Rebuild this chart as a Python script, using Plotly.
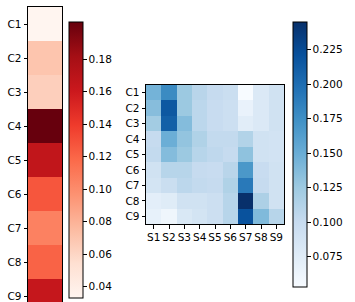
import plotly.graph_objects as go

W, H = 355, 302

rows = ["C1", "C2", "C3", "C4", "C5", "C6", "C7", "C8", "C9"]
cols = ["S1", "S2", "S3", "S4", "S5", "S6", "S7", "S8", "S9"]

left_vals = [0.033, 0.070, 0.064, 0.203, 0.166, 0.127, 0.106, 0.121, 0.164]

mid_vals = [
    [0.145, 0.178, 0.126, 0.109, 0.101, 0.097, 0.053, 0.080, 0.091],
    [0.136, 0.216, 0.126, 0.107, 0.099, 0.095, 0.066, 0.080, 0.091],
    [0.122, 0.210, 0.137, 0.107, 0.099, 0.095, 0.074, 0.080, 0.091],
    [0.101, 0.149, 0.130, 0.114, 0.103, 0.103, 0.113, 0.091, 0.089],
    [0.103, 0.137, 0.126, 0.110, 0.105, 0.101, 0.132, 0.091, 0.089],
    [0.091, 0.110, 0.110, 0.101, 0.099, 0.109, 0.168, 0.099, 0.091],
    [0.088, 0.097, 0.107, 0.103, 0.101, 0.114, 0.191, 0.101, 0.091],
    [0.072, 0.076, 0.091, 0.091, 0.095, 0.110, 0.245, 0.116, 0.091],
    [0.068, 0.061, 0.082, 0.088, 0.095, 0.110, 0.220, 0.139, 0.110],
]

left_ticks = [0.04, 0.06, 0.08, 0.10, 0.12, 0.14, 0.16, 0.18]
right_ticks = [0.075, 0.100, 0.125, 0.150, 0.175, 0.200, 0.225]

reds = ['#fff5f0', '#fee0d2', '#fcbba1', '#fc9272', '#fb6a4a', '#ef3b2c', '#cb181d', '#a50f15', '#67000d']
blues = ['#f7fbff', '#deebf7', '#c6dbef', '#9ecae1', '#6baed6', '#4292c6', '#2171b5', '#08519c', '#08306b']
def cs(c):
    n = len(c) - 1
    return [[i / n, col] for i, col in enumerate(c)]

FONT = dict(family="DejaVu Sans", size=10.5, color="black")

fig = go.Figure()
fig.add_trace(go.Heatmap(
    z=[[v] for v in left_vals], x=[0], y=list(range(len(rows))),
    colorscale=cs(reds), xaxis="x", yaxis="y",
    colorbar=dict(
        x=69 / W, xanchor="left", xref="paper", xpad=0,
        y=(H - 298) / H, yanchor="bottom", yref="paper", ypad=0,
        len=276 / H, lenmode="fraction", thickness=14,
        outlinewidth=1, outlinecolor="black",
        tickvals=left_ticks, ticktext=[f"{t:.2f}" for t in left_ticks],
        ticks="outside", ticklen=3.5, tickcolor="black", tickfont=FONT,
    ),
))
fig.add_trace(go.Heatmap(
    z=mid_vals, x=list(range(len(cols))), y=list(range(len(rows))),
    colorscale=cs(blues), xaxis="x2", yaxis="y2",
    colorbar=dict(
        x=293 / W, xanchor="left", xref="paper", xpad=0,
        y=(H - 287) / H, yanchor="bottom", yref="paper", ypad=0,
        len=265 / H, lenmode="fraction", thickness=14,
        outlinewidth=1, outlinecolor="black",
        tickvals=right_ticks, ticktext=[f"{t:.3f}" for t in right_ticks],
        ticks="outside", ticklen=3.5, tickcolor="black", tickfont=FONT,
    ),
))

row_h = 34.0
vis = (H - 7) / row_h
fig.update_layout(
    width=W, height=H, margin=dict(l=0, r=0, t=0, b=0),
    paper_bgcolor="white", plot_bgcolor="white", font=FONT,
    xaxis=dict(domain=[28 / W, 62 / W], range=[-0.5, 0.5], showticklabels=False,
               ticks="", showgrid=False, zeroline=False, showline=True,
               linecolor="black", linewidth=1, mirror=True, anchor="y"),
    yaxis=dict(domain=[0, (H - 7) / H], range=[-0.5 + vis, -0.5],
               tickvals=list(range(len(rows))), ticktext=rows,
               ticks="outside", ticklen=3.5, tickcolor="black",
               showgrid=False, zeroline=False, showline=True,
               linecolor="black", linewidth=1, mirror=True, anchor="x"),
    xaxis2=dict(domain=[146 / W, 284 / W], range=[-0.5, 8.5],
                tickvals=list(range(len(cols))), ticktext=cols, tickangle=0,
                ticks="outside", ticklen=3.5, tickcolor="black",
                showgrid=False, zeroline=False, showline=True,
                linecolor="black", linewidth=1, mirror=True, anchor="y2"),
    yaxis2=dict(domain=[(H - 224) / H, (H - 85) / H], range=[8.5, -0.5],
                tickvals=list(range(len(rows))), ticktext=rows,
                ticks="outside", ticklen=3.5, tickcolor="black",
                showgrid=False, zeroline=False, showline=True,
                linecolor="black", linewidth=1, mirror=True, anchor="x2"),
)

fig.write_html("out.html")
